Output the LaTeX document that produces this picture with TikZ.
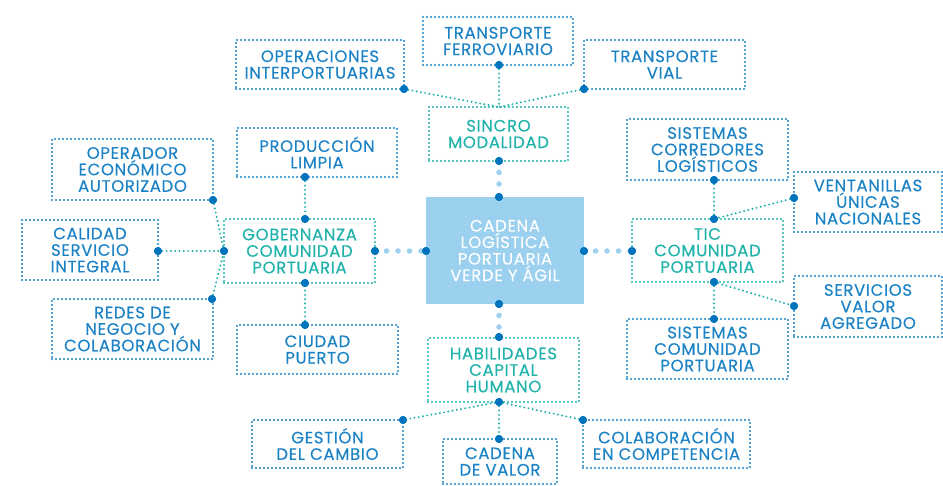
\documentclass[tikz,border=0pt]{standalone}
\usepackage{fontspec}
\setmainfont{Poppins}[LetterSpace=4, FakeBold=0.2]
\definecolor{portblue}{HTML}{1B82C5}
\definecolor{portdot}{HTML}{0073BD}
\definecolor{portteal}{HTML}{1FB2AA}
\definecolor{portlight}{HTML}{9BD0EE}
\tikzset{
  bluebox/.style={draw=portblue, text=portblue, line width=2.4pt, dash pattern=on 0pt off 4pt, line cap=round, align=center, inner sep=0pt, font=\fontsize{16.5}{16.5}\selectfont},
  tealbox/.style={bluebox, draw=portteal, text=portteal},
  hub/.style={fill=portlight, text=white, align=center, inner sep=0pt, font=\fontsize{16.5}{16.5}\selectfont},
  stud/.style={circle, fill=portdot, inner sep=0pt, minimum size=8pt},
  tie/.style={draw=portteal, line width=2.2pt, dash pattern=on 0pt off 4.3pt, line cap=round},
  spine/.style={draw=portlight, line width=5.5pt, dash pattern=on 0pt off 11.5pt, line cap=round}
}
\begin{document}
\begin{tikzpicture}[x=1pt, y=-1pt]
    \useasboundingbox (0,0) rectangle (943,486);
    \node[hub, minimum width=158pt, minimum height=107pt] (cad) at (505,250.5) {CADENA\\LOGÍSTICA\\PORTUARIA\\VERDE Y ÁGIL};
    \node[bluebox, minimum width=150pt, minimum height=48pt] (ferr) at (498,41) {TRANSPORTE\\FERROVIARIO};
    \node[bluebox, minimum width=168pt, minimum height=49pt] (oper) at (320,64.5) {OPERACIONES\\INTERPORTUARIAS};
    \node[bluebox, minimum width=161pt, minimum height=49pt] (vial) at (664.5,64.5) {TRANSPORTE\\VIAL};
    \node[tealbox, minimum width=139pt, minimum height=54pt] (sinc) at (498.5,134) {SINCRO\\MODALIDAD};
    \node[tealbox, minimum width=151pt, minimum height=64pt] (gob) at (299.5,251) {GOBERNANZA\\COMUNIDAD\\PORTUARIA};
    \node[bluebox, minimum width=160pt, minimum height=49pt] (prod) at (317,152.5) {PRODUCCIÓN\\LIMPIA};
    \node[bluebox, minimum width=161pt, minimum height=49pt] (ciu) at (317.5,349.5) {CIUDAD\\PUERTO};
    \node[bluebox, minimum width=161pt, minimum height=61pt] (opr) at (132.5,169.5) {OPERADOR\\ECONÓMICO\\AUTORIZADO};
    \node[bluebox, minimum width=136pt, minimum height=60pt] (cal) at (90,250) {CALIDAD\\SERVICIO\\INTEGRAL};
    \node[bluebox, minimum width=161pt, minimum height=60pt] (red) at (132.5,329) {REDES DE\\NEGOCIO Y\\COLABORACIÓN};
    \node[tealbox, minimum width=151pt, minimum height=63pt] (tic) at (707.5,250.5) {TIC\\COMUNIDAD\\PORTUARIA};
    \node[bluebox, minimum width=161pt, minimum height=61pt] (scl) at (707.5,149.5) {SISTEMAS\\CORREDORES\\LOGÍSTICOS};
    \node[bluebox, minimum width=148pt, minimum height=60pt] (ven) at (868,202) {VENTANILLAS\\ÚNICAS\\NACIONALES};
    \node[bluebox, minimum width=148pt, minimum height=61pt] (sva) at (868,306.5) {SERVICIOS\\VALOR\\AGREGADO};
    \node[bluebox, minimum width=161pt, minimum height=60pt] (scp) at (707.5,349) {SISTEMAS\\COMUNIDAD\\PORTUARIA};
    \node[tealbox, minimum width=151pt, minimum height=64pt] (hab) at (503.5,370) {HABILIDADES\\CAPITAL\\HUMANO};
    \node[bluebox, minimum width=151pt, minimum height=48pt] (ges) at (327.5,444) {GESTIÓN\\DEL CAMBIO};
    \node[bluebox, minimum width=114pt, minimum height=45pt] (cdv) at (500,461.5) {CADENA\\DE VALOR};
    \node[bluebox, minimum width=167pt, minimum height=48pt] (col) at (666.5,444) {COLABORACIÓN\\EN COMPETENCIA};

    \coordinate (sinc-n) at (499,107);
    \node[stud] (ferr-s) at (499,65) {};
    \node[stud] (oper-se) at (404,89) {};
    \node[stud] (vial-sw) at (584,89) {};
    \node[stud] (sinc-s) at (499,161) {};
    \node[stud] (cad-n) at (499,197) {};
    \node[stud] (cad-s) at (499,304) {};
    \node[stud] (cad-w) at (426,251) {};
    \node[stud] (cad-e) at (584,251) {};
    \node[stud] (gob-e) at (375,251) {};
    \node[stud] (gob-w) at (224,251) {};
    \node[stud] (gob-n) at (305,219) {};
    \node[stud] (gob-s) at (305,283) {};
    \node[stud] (prod-s) at (305,177) {};
    \node[stud] (ciu-n) at (305,325) {};
    \node[stud] (opr-se) at (213,200) {};
    \node[stud] (cal-e) at (158,251) {};
    \node[stud] (red-ne) at (212,299) {};
    \node[stud] (tic-w) at (632,251) {};
    \node[stud] (tic-n) at (714,219) {};
    \node[stud] (tic-s) at (714,282) {};
    \node[stud] (scl-s) at (714,180) {};
    \node[stud] (ven-w) at (794,198) {};
    \node[stud] (sva-w) at (794,306) {};
    \node[stud] (scp-n) at (714,319) {};
    \node[stud] (hab-n) at (499,337) {};
    \node[stud] (hab-s) at (499,402) {};
    \node[stud] (ges-ne) at (403,420) {};
    \node[stud] (cdv-n) at (499,439) {};
    \node[stud] (col-nw) at (583,420) {};

    \path[tie] (oper-se.center) -- (sinc-n) (ferr-s.center) -- (sinc-n) (vial-sw.center) -- (sinc-n);
    \path[tie] (prod-s.center) -- (gob-n.center) (ciu-n.center) -- (gob-s.center);
    \path[tie] (opr-se.center) -- (gob-w.center) (cal-e.center) -- (gob-w.center) (red-ne.center) -- (gob-w.center);
    \path[tie] (scl-s.center) -- (tic-n.center) (ven-w.center) -- (tic-n.center);
    \path[tie] (tic-s.center) -- (sva-w.center) (tic-s.center) -- (scp-n.center);
    \path[tie] (hab-s.center) -- (ges-ne.center) (hab-s.center) -- (cdv-n.center) (hab-s.center) -- (col-nw.center);
    \path[spine] (sinc-s.center) -- (cad-n.center);
    \path[spine] (cad-s.center) -- (hab-n.center);
    \path[spine] (gob-e.center) -- (cad-w.center);
    \path[spine] (cad-e.center) -- (tic-w.center);
    \foreach \s in {ferr-s,oper-se,vial-sw,sinc-s,cad-n,cad-s,cad-w,cad-e,gob-e,gob-w,gob-n,gob-s,prod-s,ciu-n,opr-se,cal-e,red-ne,tic-w,tic-n,tic-s,scl-s,ven-w,sva-w,scp-n,hab-n,hab-s,ges-ne,cdv-n,col-nw}
        \fill[portdot] (\s.center) circle (4pt);
\end{tikzpicture}
\end{document}
